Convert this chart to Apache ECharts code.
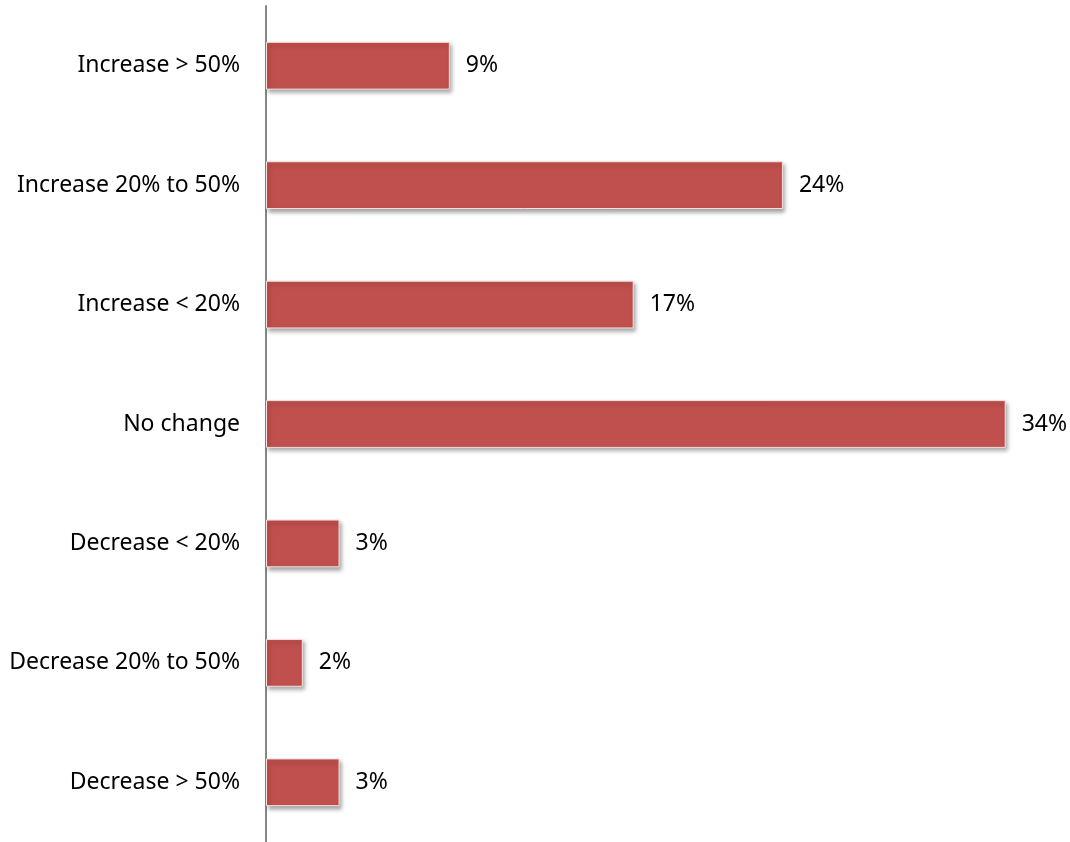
<!DOCTYPE html>
<html>
<head>
<meta charset="utf-8">
<script src="https://cdn.jsdelivr.net/npm/echarts@6/dist/echarts.min.js"></script>
<style>
html,body{margin:0;padding:0;background:#fff;}
#chart{width:1070px;height:842px;}
</style>
</head>
<body>
<div id="chart"></div>
<script>
const categories = ["Increase > 50%", "Increase 20% to 50%", "Increase < 20%", "No change", "Decrease < 20%", "Decrease 20% to 50%", "Decrease > 50%"];
const values = [8.5, 23.9, 17.0, 34.2, 3.4, 1.7, 3.4];

const chart = echarts.init(document.getElementById('chart'));
chart.setOption({
  animation: false,
  backgroundColor: '#ffffff',
  grid: { left: 266, right: 47, top: 6, bottom: 0, containLabel: false },
  xAxis: {
    type: 'value', min: 0, max: 35,
    show: false
  },
  yAxis: {
    type: 'category', data: categories, inverse: true,
    axisLine: { show: true, lineStyle: { color: '#868686', width: 2 } },
    axisTick: { show: false },
    axisLabel: { color: '#000', fontFamily: 'Noto Sans', fontSize: 23, margin: 26 }
  },
  series: [{
    type: 'bar',
    data: values,
    barWidth: '40%',
    itemStyle: {
      color: '#C0504D',
      borderColor: '#f5e1e0',
      borderWidth: 1,
      shadowColor: 'rgba(0,0,0,0.35)',
      shadowBlur: 4,
      shadowOffsetX: 2,
      shadowOffsetY: 3
    },
    label: {
      show: true, position: 'right', distance: 16,
      color: '#000', fontFamily: 'Noto Sans', fontSize: 23,
      formatter: p => Math.round(p.value) + '%'
    }
  }]
});
</script>
</body>
</html>
